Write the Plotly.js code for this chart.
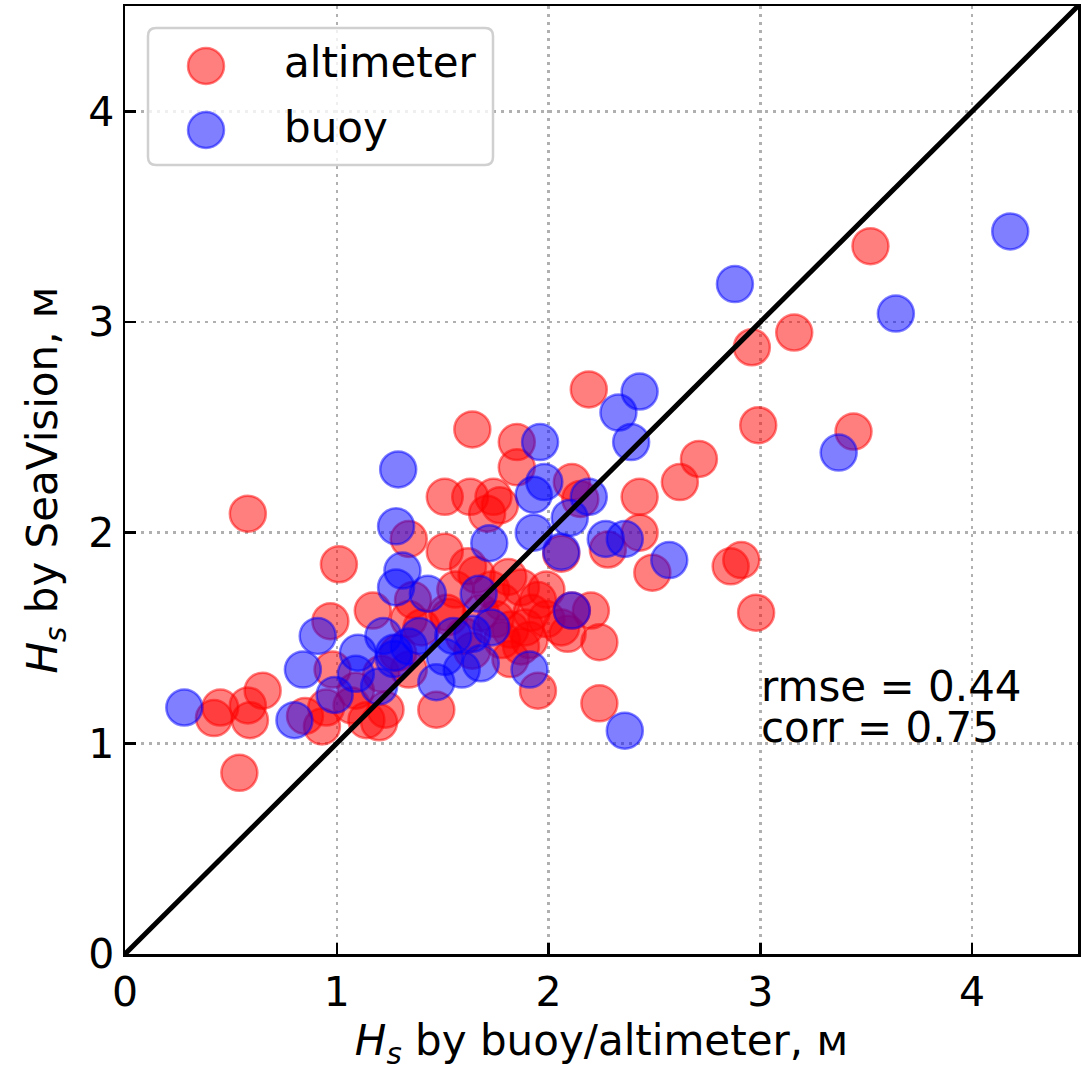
<!DOCTYPE html>
<html>
<head>
<meta charset="utf-8">
<script src="https://cdn.plot.ly/plotly-3.0.1.min.js"></script>
<style>html,body{margin:0;padding:0;background:#fff;}#chart{width:1087px;height:1071px;}</style>
</head>
<body>
<div id="chart"></div>
<script>
// altimeter (red) points: x = Hs by altimeter, y = Hs by SeaVision
const altX = [3.52,3.16,2.96,2.99,3.44,2.98,2.86,2.91,2.19,2.71,2.62,2.43,2.49,2.43,2.28,2.24,2.24,2.20,2.11,1.95,
  2.11,2.15,1.64,1.51,1.63,1.74,1.77,1.85,1.85,1.51,1.34,1.17,1.01,0.97,0.58,0.54,0.42,0.45,0.58,0.59,
  0.65,0.85,0.95,0.93,0.98,1.14,1.20,1.23,1.34,1.47,1.34,1.52,1.29,1.62,1.81,1.87,1.95,1.89,1.91,1.53,
  1.73,1.78,1.68,1.60,1.82,1.87,2.09,2.06,1.71,1.99,2.06,1.36,1.40,1.56,1.66,1.92,1.99,1.21,1.09,1.07,
  1.64,1.82,1.75,1.78];
const altY = [3.36,2.95,2.88,2.51,2.48,1.62,1.84,1.87,2.68,2.35,2.24,2.17,1.81,2.00,1.92,1.19,1.48,1.63,1.63,1.25,
  2.24,2.16,2.49,2.17,2.17,2.17,2.13,2.43,2.31,1.91,1.97,1.63,1.85,1.58,2.09,0.86,1.12,1.17,1.18,1.11,
  1.25,1.13,1.17,1.08,1.35,1.11,1.10,1.16,1.35,1.16,1.59,1.62,1.43,1.84,1.79,1.74,1.68,1.55,1.49,1.60,
  1.73,1.67,1.62,1.51,1.54,1.46,1.52,1.55,2.09,1.73,1.90,1.68,1.55,1.73,1.80,1.62,1.59,1.33,1.25,1.18,
  1.44,1.40,1.59,1.49];
// buoy (blue) points
const buoyX = [4.18,2.88,3.64,3.37,2.43,2.33,2.39,1.96,1.98,1.93,2.19,2.10,1.93,2.06,2.27,2.36,2.57,1.72,2.11,1.91,
  2.36,1.29,1.28,1.31,1.28,1.43,1.67,1.73,1.64,1.51,1.68,1.59,1.47,1.34,0.28,0.80,0.84,0.91,0.99,1.10,
  1.09,1.22,1.27,1.20,1.39,1.55,1.27];
const buoyY = [3.43,3.18,3.04,2.38,2.67,2.57,2.43,2.43,2.24,2.18,2.17,2.07,2.00,1.91,1.97,1.97,1.87,1.95,1.63,1.35,
  1.06,2.30,2.03,1.82,1.74,1.71,1.71,1.55,1.52,1.41,1.38,1.35,1.29,1.46,1.17,1.11,1.35,1.51,1.23,1.43,
  1.33,1.51,1.43,1.27,1.51,1.51,1.40];
const lineXY = [0, 4.5];
const seriesNames = ['altimeter', 'buoy'];
const statsText = ['rmse = 0.44', 'corr = 0.75'];
const tickVals = [0, 1, 2, 3, 4];

const FONT = 'DejaVu Sans, Liberation Sans, sans-serif';
const L = 125, R = 9, T = 6, B = 117, W = 1087, H = 1071;
const pw = W - L - R, ph = H - T - B;
const px2x = p => (p - L) / pw;
const px2y = p => (H - B - p) / ph;

const RED = 'rgba(255,0,0,0.5)', BLUE = 'rgba(0,0,255,0.5)';
const markerStyle = c => ({size: 36, color: c, line: {color: c, width: 2.5}});

const traces = [
  {type: 'scatter', mode: 'markers', x: altX, y: altY, name: seriesNames[0], marker: markerStyle(RED), showlegend: false},
  {type: 'scatter', mode: 'markers', x: buoyX, y: buoyY, name: seriesNames[1], marker: markerStyle(BLUE), showlegend: false},
  {type: 'scatter', mode: 'lines', x: lineXY, y: lineXY, line: {color: 'black', width: 5}, showlegend: false, hoverinfo: 'skip'}
];

// legend box (rounded) in paper coordinates
const bx0 = px2x(148), bx1 = px2x(493), by0 = px2y(165), by1 = px2y(28);
const rx = 8 / pw, ry = 8 / ph;
const boxPath = `M ${bx0+rx},${by1} L ${bx1-rx},${by1} Q ${bx1},${by1} ${bx1},${by1-ry} L ${bx1},${by0+ry} Q ${bx1},${by0} ${bx1-rx},${by0} L ${bx0+rx},${by0} Q ${bx0},${by0} ${bx0},${by0+ry} L ${bx0},${by1-ry} Q ${bx0},${by1} ${bx0+rx},${by1} Z`;

const legColors = [RED, BLUE];
const legY = [px2y(66), px2y(130)];
const legTextY = [px2y(63), px2y(128)];
const shapes = [
  {type: 'path', xref: 'paper', yref: 'paper', path: boxPath, line: {color: '#d0d0d0', width: 2.5}, fillcolor: 'rgba(255,255,255,0.8)', layer: 'above'}
];
const annotations = [];
seriesNames.forEach((n, i) => {
  shapes.push({type: 'circle', xref: 'paper', yref: 'paper', xsizemode: 'pixel', ysizemode: 'pixel',
    xanchor: px2x(206), yanchor: legY[i], x0: -18, x1: 18, y0: -18, y1: 18,
    fillcolor: legColors[i], line: {color: legColors[i], width: 2.5}, layer: 'above'});
  annotations.push({xref: 'paper', yref: 'paper', x: px2x(282), y: legTextY[i], xanchor: 'left', yanchor: 'middle',
    text: n, showarrow: false, font: {family: FONT, size: 42, color: 'black'}});
});
const statsY = [686, 727];
statsText.forEach((t, i) => {
  annotations.push({xref: 'paper', yref: 'paper', x: px2x(759), y: px2y(statsY[i]), xanchor: 'left', yanchor: 'middle',
    height: 40, valign: 'middle',
    text: t, showarrow: false, font: {family: FONT, size: 42, color: 'black'}});
});

const axisCommon = {
  range: [0, 4.5], tickvals: tickVals, ticktext: tickVals.map(String),
  ticks: 'inside', ticklen: 11, tickwidth: 2.5, tickcolor: 'black',
  showline: true, linecolor: 'black', linewidth: 2.5, mirror: true,
  showgrid: true, gridcolor: '#b0b0b0', gridwidth: 2.5, griddash: '3px,5px',
  zeroline: false, tickfont: {family: FONT, size: 41, color: 'black'}
};

const layout = {
  width: W, height: H,
  margin: {l: L, r: R, t: T, b: B, pad: 0},
  paper_bgcolor: 'white', plot_bgcolor: 'white',
  showlegend: false,
  xaxis: Object.assign({}, axisCommon, {
    title: {text: '<i>H<sub>s</sub></i> by buoy/altimeter, м', font: {family: FONT, size: 42, color: 'black'}, standoff: 16}
  }),
  yaxis: Object.assign({}, axisCommon, {
    title: {text: '<i>H<sub>s</sub></i> by SeaVision, м', font: {family: FONT, size: 42, color: 'black'}, standoff: 18}
  }),
  shapes: shapes,
  annotations: annotations
};

Plotly.newPlot('chart', traces, layout, {displayModeBar: false, staticPlot: true});
</script>
</body>
</html>
